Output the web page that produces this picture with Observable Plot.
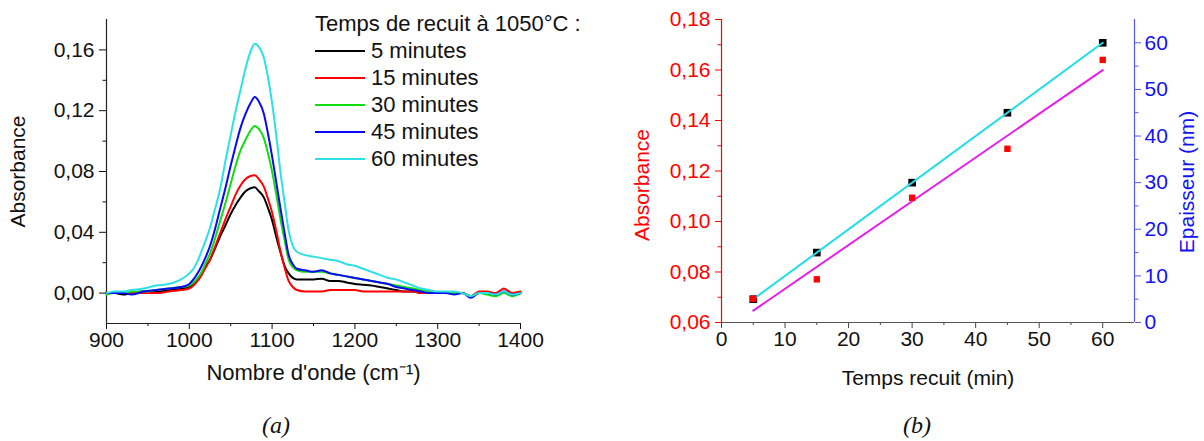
<!DOCTYPE html>
<html><head><meta charset="utf-8">
<script src="https://cdn.jsdelivr.net/npm/d3@7"></script>
<script src="https://cdn.jsdelivr.net/npm/@observablehq/plot@0.6"></script>
<style>
body{margin:0;background:#fff;}
#wrap{position:relative;width:1204px;height:441px;overflow:hidden;font-family:"Liberation Sans",Arial,sans-serif;background:#fff;}
.layer{position:absolute;top:0;}
.legend{position:absolute;left:315px;top:10px;font-size:22px;color:#111;line-height:27px;white-space:nowrap;}
.legend .sw{display:inline-block;width:50px;height:0;border-top:2.5px solid;vertical-align:middle;margin-right:6px;position:relative;top:-1px;}
.cap{position:absolute;top:412px;font-family:"Liberation Serif","DejaVu Serif",serif;font-style:italic;font-size:24px;color:#111;transform:translateX(-50%);}
</style></head><body><div id="wrap"></div>
<script>
// ---------- Data (a): FTIR spectra ----------
const wavenumbers = [900,910,920,930,945,960,975,990,1000,1005,1010,1015,1020,1025,1030,1037,1044,1050,1056,1062,1068,1074,1079,1084,1090,1095,1100,1105,1110,1115,1120,1125,1130,1140,1150,1160,1170,1180,1190,1200,1210,1220,1230,1240,1250,1260,1270,1280,1290,1300,1310,1320,1330,1340,1350,1360,1370,1380,1390,1400];
const abs5min = [0.000,0.000,-0.001,0.000,0.001,0.001,0.002,0.003,
 0.004,0.006,0.009,0.013,0.018,0.022,0.028,
 0.037,0.045,0.052,0.058,0.063,0.067,0.069,0.0697,0.067,0.063,0.056,
 0.048,0.037,0.027,0.018,0.013,0.010,0.009,
 0.009,0.009,0.0095,0.008,0.008,0.007,0.006,0.0055,0.005,0.004,0.003,0.002,0.001,0.001,0.000,0.000,0.000,0.000,0.000,0.000,-0.002,0.000,0.000,-0.001,0.001,-0.001,0.000];
const abs15min = [0.000,0.000,0.000,0.000,0.000,0.000,0.001,0.002,
 0.003,0.005,0.008,0.012,0.017,0.022,0.029,
 0.039,0.049,0.057,0.065,0.071,0.075,0.077,0.0775,0.075,0.070,0.062,
 0.053,0.041,0.028,0.017,0.008,0.004,0.002,
 0.001,0.001,0.001,0.002,0.002,0.002,0.002,0.001,0.001,0.001,0.001,0.001,0.001,0.001,0.000,0.000,0.000,0.000,0.000,0.000,-0.002,0.001,0.001,0.000,0.003,0.000,0.001];
const abs30min = [-0.001,0.000,0.000,0.001,0.001,0.002,0.003,0.004,
 0.005,0.007,0.010,0.014,0.020,0.026,0.034,
 0.047,0.060,0.072,0.084,0.094,0.101,0.107,0.110,0.108,0.102,0.092,
 0.080,0.065,0.049,0.035,0.022,0.017,0.015,
 0.014,0.014,0.014,0.013,0.012,0.011,0.010,0.009,0.008,0.007,0.006,0.005,0.004,0.003,0.002,0.001,0.000,0.000,0.000,0.000,-0.002,0.000,-0.001,-0.002,0.000,-0.002,0.000];
const abs45min = [0.000,0.000,0.000,-0.001,0.001,0.002,0.003,0.004,
 0.006,0.009,0.013,0.018,0.024,0.031,0.040,
 0.055,0.070,0.084,0.097,0.109,0.118,0.125,0.129,0.126,0.118,0.105,
 0.090,0.073,0.056,0.040,0.025,0.019,0.016,
 0.015,0.014,0.015,0.013,0.012,0.011,0.010,0.009,0.008,0.007,0.006,0.004,0.003,0.002,0.001,0.000,0.000,0.000,-0.001,0.000,-0.003,0.000,0.000,-0.001,0.001,-0.001,0.000];
const abs60min = [0.000,0.001,0.001,0.002,0.003,0.005,0.006,0.009,
 0.013,0.016,0.021,0.028,0.035,0.043,0.053,
 0.068,0.088,0.104,0.120,0.134,0.148,0.159,0.164,0.162,0.155,0.142,
 0.125,0.104,0.080,0.060,0.041,0.031,0.027,
 0.025,0.024,0.023,0.022,0.021,0.019,0.018,0.016,0.014,0.012,0.010,0.009,0.007,0.005,0.003,0.002,0.001,0.001,0.001,0.000,-0.002,0.000,0.000,-0.001,0.001,-0.001,0.000];
const seriesNames = ["5 minutes","15 minutes","30 minutes","45 minutes","60 minutes"];
const seriesColors = ["#000000","#ff0000","#11dd11","#0a0af0","#2ee0e6"];
const seriesValues = [abs5min, abs15min, abs30min, abs45min, abs60min];
const legendTitle = "Temps de recuit à 1050°C :";
const xTicksA = [900,1000,1100,1200,1300,1400];
const xMinorA = [950,1050,1150,1250,1350];
const yTicksA = [0,0.04,0.08,0.12,0.16];
const yMinorA = [0.02,0.06,0.10,0.14];

// ---------- Data (b): annealing time ----------
const recuitTimes = [5,15,30,45,60];
const absorbancePeak = [0.0694,0.0771,0.1094,0.1288,0.164];
const thicknessNm = [5,15,30,45,60];
const xTicksB = [0,10,20,30,40,50,60];
const xMinorB = [5,15,25,35,45,55];
const yTicksBL = [0.06,0.08,0.10,0.12,0.14,0.16,0.18];
const yMinorBL = [0.07,0.09,0.11,0.13,0.15,0.17];
const yTicksBR = [0,10,20,30,40,50,60];
const yMinorBR = [5,15,25,35,45,55];

const fmtComma = d => d.toFixed(2).replace(".", ",");
const FONT = '"Liberation Sans", Arial, sans-serif';
const wrap = document.getElementById("wrap");

function place(el, left){ el.classList.add("layer"); el.style.left = left + "px"; wrap.appendChild(el); }

// ----- Chart (a) -----
const spec = [];
seriesValues.forEach((vals, i) => vals.forEach((a, j) => spec.push({w: wavenumbers[j], a, name: seriesNames[i]})));

const plotA = Plot.plot({
  width: 600, height: 400,
  marginLeft: 106, marginRight: 80, marginTop: 19, marginBottom: 77,
  style: {fontFamily: FONT, fontSize: "21px", color: "#111", background: "transparent", overflow: "visible"},
  x: {domain: [900, 1400]},
  y: {domain: [-0.02, 0.18]},
  color: {domain: seriesNames, range: seriesColors},
  marks: [
    Plot.axisX(xTicksA, {tickSize: 6, tickPadding: 3, tickFormat: d => String(d), label: null}),
    Plot.axisX(xMinorA, {tickSize: 3, tickFormat: () => "", label: null}),
    Plot.axisY(yTicksA, {tickSize: 7, tickPadding: 5, tickFormat: fmtComma, label: null}),
    Plot.axisY(yMinorA, {tickSize: 3.5, tickFormat: () => "", label: null}),
    Plot.ruleX([900], {stroke: "#222", strokeWidth: 1.2}),
    Plot.ruleY([-0.02], {stroke: "#222", strokeWidth: 1.2}),
    Plot.line(spec, {x: "w", y: "a", z: "name", stroke: "name", strokeWidth: 2, curve: "monotone-x"}),
    Plot.text(["Absorbance"], {text: d => d, frameAnchor: "left", textAnchor: "middle", lineAnchor: "middle", dx: -88, rotate: -90, fontSize: 21, fill: "#111"}),
    Plot.text(["Nombre d'onde (cm⁻¹)"], {text: d => d, frameAnchor: "bottom", textAnchor: "middle", lineAnchor: "middle", dy: 49, fontSize: 22, fill: "#111"})
  ]
});
place(plotA, 0);

// legend (a)
const lg = document.createElement("div");
lg.className = "legend";
lg.innerHTML = `<div>${legendTitle}</div>` + seriesNames.map((n, i) =>
  `<div><span class="sw" style="border-color:${seriesColors[i]}"></span>${n}</div>`).join("");
wrap.appendChild(lg);

// ----- Chart (b): right scale layer (thickness) -----
const plotB2 = Plot.plot({
  width: 604, height: 400,
  marginLeft: 121, marginRight: 70, marginTop: 19, marginBottom: 78,
  style: {fontFamily: FONT, fontSize: "21px", background: "transparent", overflow: "visible"},
  x: {domain: [0, 65], axis: null},
  y: {domain: [0, 65]},
  marks: [
    Plot.axisY(yTicksBR, {anchor: "right", tickSize: 6, tickPadding: 4, fill: "#1212f2", stroke: "#5a5ad8", label: null}),
    Plot.axisY(yMinorBR, {anchor: "right", tickSize: 3.5, tickFormat: () => "", stroke: "#5a5ad8", label: null}),
    Plot.ruleX([65], {stroke: "#5a5ad8", strokeWidth: 1.2}),
    Plot.dot(recuitTimes, {x: recuitTimes, y: thicknessNm, symbol: "square", fill: "#000", r: 4.3}),
    Plot.linearRegressionY(recuitTimes, {x: recuitTimes, y: thicknessNm, stroke: "#22dde6", strokeWidth: 2, ci: 0}),
    Plot.text(["Epaisseur (nm)"], {text: d => d, frameAnchor: "right", textAnchor: "middle", lineAnchor: "middle", dx: 53, dy: 11, rotate: -90, fontSize: 21, fill: "#1212f2"})
  ]
});
place(plotB2, 600);

// ----- Chart (b): left scale layer (absorbance) -----
const plotB1 = Plot.plot({
  width: 604, height: 400,
  marginLeft: 121, marginRight: 70, marginTop: 19, marginBottom: 78,
  style: {fontFamily: FONT, fontSize: "21px", color: "#111", background: "transparent", overflow: "visible"},
  x: {domain: [0, 65]},
  y: {domain: [0.06, 0.18]},
  marks: [
    Plot.axisX(xTicksB, {tickSize: 6, tickPadding: 3, tickFormat: d => String(d), stroke: "#444", label: null}),
    Plot.axisX(xMinorB, {tickSize: 3, tickFormat: () => "", stroke: "#444", label: null}),
    Plot.axisY(yTicksBL, {tickSize: 6, tickPadding: 5, tickFormat: fmtComma, fill: "#ff0000", stroke: "#ff0000", label: null}),
    Plot.axisY(yMinorBL, {tickSize: 3.5, tickFormat: () => "", stroke: "#ff0000", label: null}),
    Plot.ruleY([0.06], {stroke: "#555", strokeWidth: 1.2}),
    Plot.ruleX([0], {stroke: "#ff0000", strokeWidth: 1.2}),
    Plot.linearRegressionY(recuitTimes, {x: recuitTimes, y: absorbancePeak, stroke: "#e61ee6", strokeWidth: 2, ci: 0}),
    Plot.dot(recuitTimes, {x: recuitTimes, y: absorbancePeak, symbol: "square", fill: "#ff0000", r: 3.6}),
    Plot.text(["Absorbance"], {text: d => d, frameAnchor: "left", textAnchor: "middle", lineAnchor: "middle", dx: -79, dy: 14, rotate: -90, fontSize: 21, fill: "#ff0000"}),
    Plot.text(["Temps recuit (min)"], {text: d => d, frameAnchor: "bottom", textAnchor: "middle", lineAnchor: "middle", dy: 56, fontSize: 21, fill: "#111"})
  ]
});
place(plotB1, 600);

// captions
[["(a)", 276], ["(b)", 917]].forEach(([t, x]) => {
  const c = document.createElement("div");
  c.className = "cap"; c.textContent = t; c.style.left = x + "px";
  wrap.appendChild(c);
});
</script></body></html>
